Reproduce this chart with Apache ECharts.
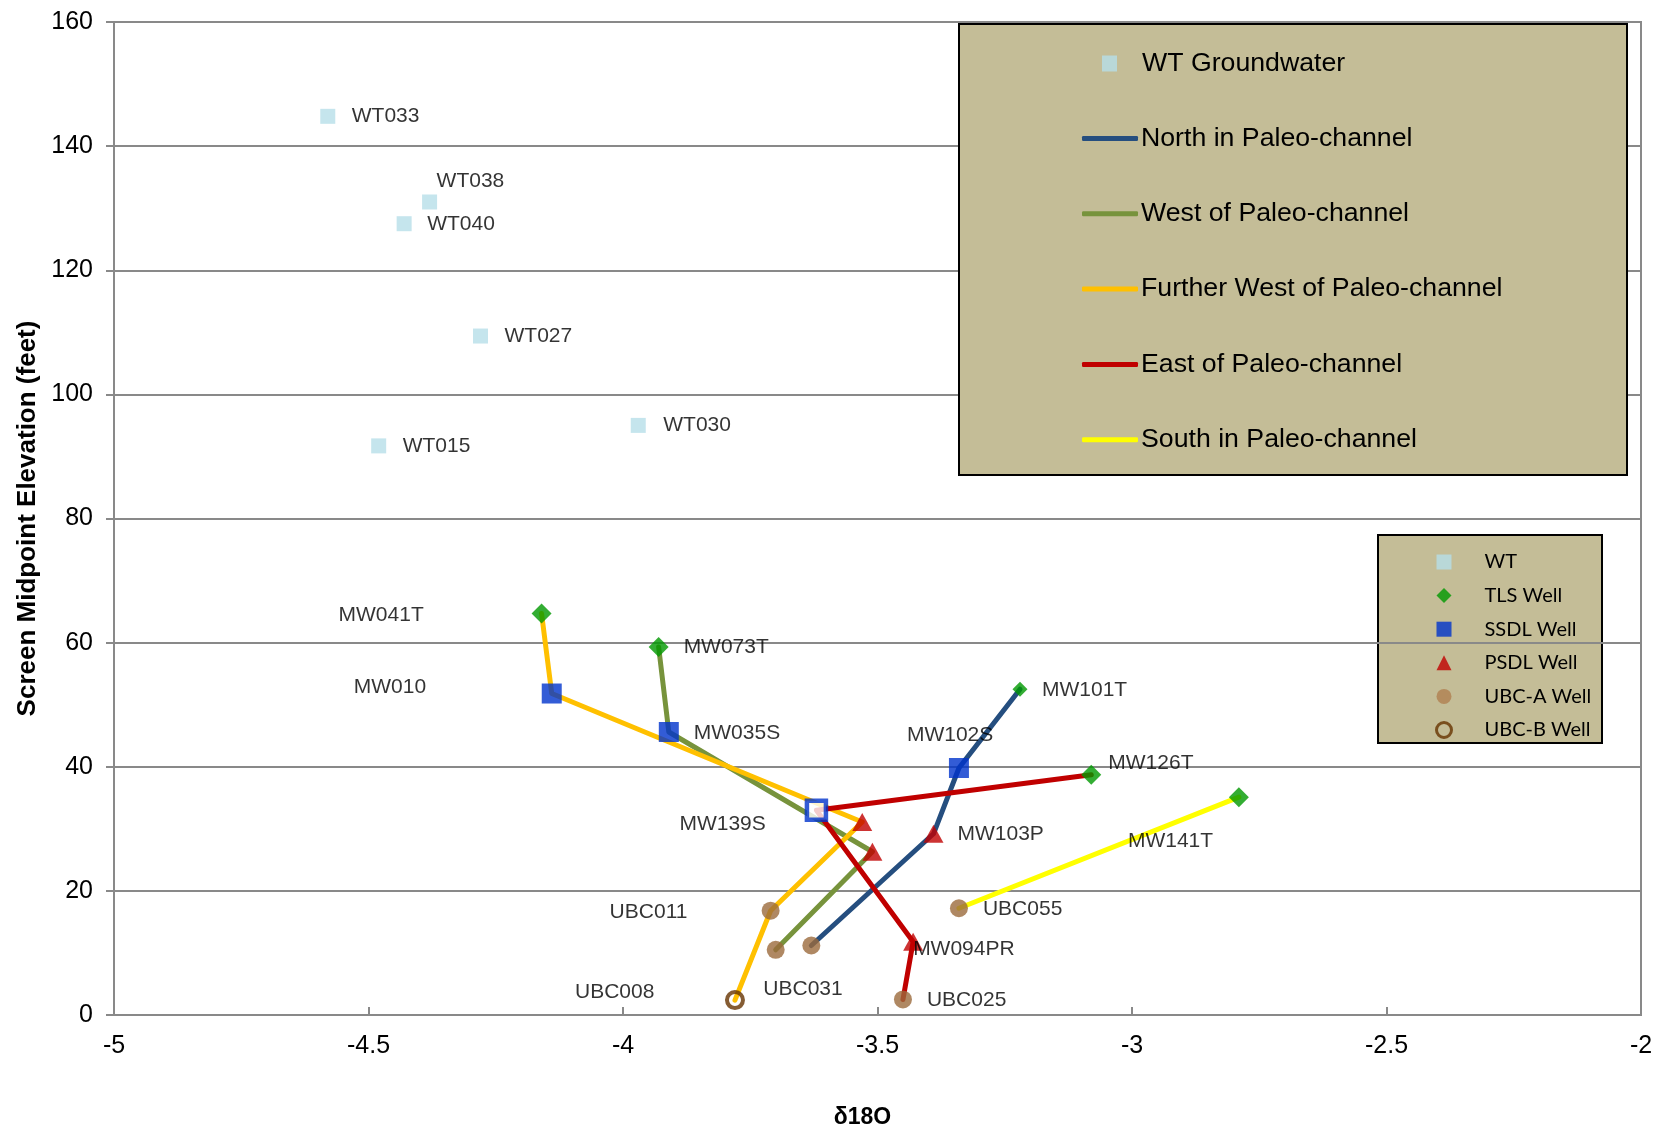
<!DOCTYPE html>
<html>
<head>
<meta charset="utf-8">
<script src="https://cdn.jsdelivr.net/npm/echarts@6/dist/echarts.min.js"></script>
<style>
  html, body { margin: 0; padding: 0; background: #ffffff; }
  #chart { width: 1674px; height: 1134px; }
</style>
</head>
<body>
<div id="chart"></div>
<script>
// Water-table samples: δ18O vs screen midpoint elevation (feet)
const wtNames = ['WT033', 'WT038', 'WT040', 'WT027', 'WT015', 'WT030'];
const wtD18O  = [-4.58, -4.38, -4.43, -4.28, -4.48, -3.97];
const wtElev  = [144.8, 131.0, 127.5, 109.4, 91.7, 95.0];

// TLS wells
const tlsNames = ['MW041T', 'MW073T', 'MW101T', 'MW126T', 'MW141T'];
const tlsD18O  = [-4.16, -3.93, -3.22, -3.08, -2.79];
const tlsElev  = [64.7, 59.3, 52.5, 38.7, 35.1];

// SSDL wells
const ssdlNames = ['MW010', 'MW035S', 'MW102S', 'MW139S'];
const ssdlD18O  = [-4.14, -3.91, -3.34, -3.62];
const ssdlElev  = [51.8, 45.6, 39.8, 33.0];

// PSDL wells
const psdlNames = ['PSDL-W', 'PSDL-FW', 'MW103P', 'MW094PR'];
const psdlD18O  = [-3.51, -3.53, -3.39, -3.43];
const psdlElev  = [26.3, 31.1, 29.2, 11.8];

// UBC-A wells
const ubcaNames = ['UBC011', 'UBC-W', 'UBC031', 'UBC055', 'UBC025'];
const ubcaD18O  = [-3.71, -3.70, -3.63, -3.34, -3.45];
const ubcaElev  = [16.8, 10.5, 11.2, 17.2, 2.5];

// UBC-B wells
const ubcbNames = ['UBC008'];
const ubcbD18O  = [-3.78];
const ubcbElev  = [2.4];

// Wells joined by each flow-path line, in drawing order
const northPath       = ['UBC031', 'MW103P', 'MW102S', 'MW101T'];
const westPath        = ['MW073T', 'MW035S', 'PSDL-W', 'UBC-W'];
const furtherWestPath = ['MW041T', 'MW010', 'PSDL-FW', 'UBC011', 'UBC008'];
const eastPath        = ['MW126T', 'MW139S', 'MW094PR', 'UBC025'];
const southPath       = ['UBC055', 'MW141T'];

// Axis ranges
const xMin = -5, xMax = -2, xStep = 0.5;
const yMin = 0, yMax = 160, yStep = 20;

// ---- presentation ----
const FONT = "'Liberation Sans', Arial, sans-serif";

// label anchor: offset from marker centre to the left-middle of the text
const labelOffset = {
  WT033: [24, 0], WT038: [7, -21], WT040: [23, 0], WT027: [24, 0], WT015: [24, 0], WT030: [25, 0],
  MW041T: [-203, 2], MW010: [-198, -6], MW073T: [25, 0], MW035S: [25, 1], MW139S: [-137, 14],
  MW101T: [22, 1], MW102S: [-52, -33], MW126T: [17, -12], MW103P: [24, 0], MW141T: [-111, 44],
  UBC011: [-161, 1], UBC055: [24, 1], MW094PR: [0, 7], UBC031: [-48, 44], UBC008: [-160, -8],
  UBC025: [24, 1]
};

const lookup = {};
function buildPoints(names, xs, ys, extra) {
  return names.map((n, i) => {
    lookup[n] = [xs[i], ys[i]];
    const item = { name: n, value: [xs[i], ys[i]] };
    const off = labelOffset[n];
    if (off) {
      item.label = {
        show: true, position: 'inside', align: 'left', verticalAlign: 'middle',
        offset: off, formatter: n, color: '#000000', fontFamily: FONT, fontSize: 21,
        textBorderWidth: 0
      };
    }
    if (extra && extra[n]) Object.assign(item, extra[n]);
    return item;
  });
}

const wtData   = buildPoints(wtNames, wtD18O, wtElev);
const tlsData  = buildPoints(tlsNames, tlsD18O, tlsElev, { MW101T: { symbolSize: 15 } });
const ssdlData = buildPoints(ssdlNames, ssdlD18O, ssdlElev, {
  MW139S: { symbolSize: 19, itemStyle: { color: '#ffffff', borderColor: '#0033cc', borderWidth: 4.5 } }
});
const psdlData = buildPoints(psdlNames, psdlD18O, psdlElev);
const ubcaData = buildPoints(ubcaNames, ubcaD18O, ubcaElev);
const ubcbData = buildPoints(ubcbNames, ubcbD18O, ubcbElev);

function pathSeries(name, path, color) {
  return {
    name, type: 'line', data: path.map(id => lookup[id]),
    symbol: 'none', z: 2, silent: true,
    color,
    itemStyle: { color },
    lineStyle: { color, width: 5, cap: 'round', join: 'round' }
  };
}

function pointSeries(name, data, symbol, size, itemStyle) {
  return { name, type: 'scatter', data, symbol, symbolSize: size, itemStyle, z: 3, silent: true };
}

const lineNames = ['North in Paleo-channel', 'West of Paleo-channel',
  'Further West of Paleo-channel', 'East of Paleo-channel', 'South in Paleo-channel'];

const chart = echarts.init(document.getElementById('chart'), null, { renderer: 'canvas' });

chart.setOption({
  animation: false,
  backgroundColor: '#ffffff',
  grid: {
    left: 114, right: 33, top: 22, bottom: 118,
    show: true, borderColor: '#898989', borderWidth: 2, backgroundColor: 'transparent'
  },
  xAxis: {
    type: 'value', min: xMin, max: xMax, interval: xStep,
    name: 'δ18O', nameLocation: 'middle', nameGap: 91,
    nameTextStyle: { fontFamily: FONT, fontSize: 23, fontWeight: 'bold', color: '#000', padding: [0, 30, 0, 0] },
    axisLine: { show: true, onZero: false, lineStyle: { color: '#898989', width: 2 } },
    axisTick: { show: true, inside: true, length: 8, lineStyle: { color: '#898989', width: 2 } },
    axisLabel: { fontFamily: FONT, fontSize: 25, color: '#000', margin: 19 },
    splitLine: { show: false }
  },
  yAxis: {
    type: 'value', min: yMin, max: yMax, interval: yStep,
    name: 'Screen Midpoint Elevation (feet)', nameLocation: 'middle', nameGap: 73,
    nameTextStyle: { fontFamily: FONT, fontSize: 26, fontWeight: 'bold', color: '#000' },
    axisLine: { show: true, onZero: false, lineStyle: { color: '#898989', width: 2 } },
    axisTick: { show: true, inside: false, length: 8, lineStyle: { color: '#898989', width: 2 } },
    axisLabel: { fontFamily: FONT, fontSize: 25, color: '#000', margin: 21 },
    splitLine: { show: true, lineStyle: { color: '#898989', width: 2 } }
  },
  graphic: [
    { type: 'rect', z: 3, shape: { x: 959, y: 24, width: 668, height: 451 },
      style: { fill: '#c4bd97', stroke: '#000000', lineWidth: 2 } },
    { type: 'rect', z: -1, shape: { x: 1378, y: 535, width: 224, height: 208 },
      style: { fill: '#c4bd97', stroke: '#000000', lineWidth: 2 } }
  ],
  legend: [
    {
      orient: 'vertical', left: 1102, top: 50, padding: 0,
      itemWidth: 15, itemHeight: 16, selectedMode: false,
      textStyle: { fontFamily: FONT, fontSize: 26.7, color: '#000', padding: [0, 0, 0, 20] },
      data: [{ name: 'WT Groundwater', icon: 'rect' }]
    },
    {
      orient: 'vertical', left: 1082, top: 125, padding: 0,
      itemWidth: 56, itemHeight: 5, itemGap: 48.3, selectedMode: false,
      textStyle: { fontFamily: FONT, fontSize: 26.7, color: '#000', padding: [0, 0, 0, -2] },
      data: lineNames.map(n => ({ name: n, icon: 'roundRect' }))
    },
    {
      orient: 'vertical', left: 1435, top: 552, padding: 0,
      itemWidth: 15, itemHeight: 15, itemGap: 13.6, selectedMode: false,
      textStyle: { fontFamily: "Lato, 'Open Sans', sans-serif", fontSize: 20, color: '#000', padding: [0, 0, 0, 28] },
      data: [
        { name: 'WT', icon: 'rect' },
        { name: 'TLS Well', icon: 'diamond' },
        { name: 'SSDL Well', icon: 'rect' },
        { name: 'PSDL Well', icon: 'triangle' },
        { name: 'UBC-A Well', icon: 'circle', itemStyle: { color: '#b08050' } },
        { name: 'UBC-B Well', icon: 'circle', itemStyle: { borderWidth: 3 } }
      ]
    }
  ],
  series: [
    pathSeries(lineNames[0], northPath, '#254e7f'),
    pathSeries(lineNames[1], westPath, '#77933c'),
    pathSeries(lineNames[2], furtherWestPath, '#ffc000'),
    pathSeries(lineNames[3], eastPath, '#c00000'),
    pathSeries(lineNames[4], southPath, '#ffff00'),
    pointSeries('WT Groundwater', wtData, 'rect', 15, { color: '#b7dee8' }),
    pointSeries('WT', [], 'rect', 15, { color: '#b7dee8' }),
    pointSeries('TLS Well', tlsData, 'diamond', 20, { color: '#009900' }),
    pointSeries('SSDL Well', ssdlData, 'rect', 20, { color: '#0033cc' }),
    pointSeries('PSDL Well', psdlData, 'triangle', [20, 18], { color: '#c00000' }),
    pointSeries('UBC-A Well', ubcaData, 'circle', 18, { color: '#9b6a3c' }),
    pointSeries('UBC-B Well', ubcbData, 'circle', 16,
      { color: 'rgba(255,255,255,0)', borderColor: '#663300', borderWidth: 4 })
  ]
});
</script>
</body>
</html>
